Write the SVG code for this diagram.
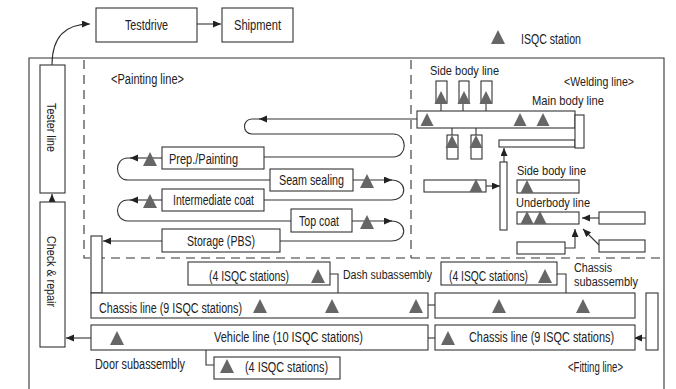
<svg xmlns="http://www.w3.org/2000/svg" width="676" height="389" viewBox="0 0 676 389">
<style>
rect.b{fill:#fff;stroke:#333;stroke-width:1.1}
.ln{fill:none;stroke:#333;stroke-width:1.1}
.ar{fill:none;stroke:#333;stroke-width:1.1;marker-end:url(#ah)}
.dash{fill:none;stroke:#333;stroke-width:1.1;stroke-dasharray:9 6}
text{font-family:"Liberation Sans Narrow","Liberation Sans",Arial,sans-serif;font-size:14px;fill:#222}
text.s{font-size:13px}
text.xs{font-size:12px}
.tri{fill:#666}
</style>
<defs>
<marker id="ah" markerUnits="userSpaceOnUse" markerWidth="9" markerHeight="8" refX="8" refY="3.5" orient="auto"><path d="M0,0 L8,3.5 L0,7 Z" fill="#222"/></marker>
<path id="t" class="tri" d="M-7,0 L0,-14 L7,0 Z"/>
<path id="ts" class="tri" d="M-6.5,0 L0,-13 L6.5,0 Z"/>
</defs>
<rect width="676" height="389" fill="#fff"/>
<!-- frame and zone separators -->
<path class="ln" d="M29,395 V58 H664 V395"/>
<path class="dash" d="M84,60 V258 H664"/>
<path class="dash" d="M411,60 V258"/>

<g id="connectors">
<path class="ar" d="M52,65 C52,36 66,24 90,24"/>
<path class="ar" d="M197,24 H221"/>
<path class="ar" d="M52,202 V194"/>
<!-- welding -->
<path class="ar" d="M441,103 V121"/>
<path class="ar" d="M463,103 V121"/>
<path class="ar" d="M486,103 V121"/>
<path class="ar" d="M452,135 V119"/>
<path class="ar" d="M476,135 V119"/>
<path class="ar" d="M575,119 H557"/>
<path class="ar" d="M504,162 V148"/>
<path class="ar" d="M486,186 H500"/>
<path class="ar" d="M599,218 H582"/>
<path class="ar" d="M599,245 L583,229"/>
<path class="ar" d="M565,248 H575 V229"/>
<!-- painting -->
<path class="ar" d="M417,119 H259"/>
<path class="ln" d="M260,119 H252 C242,119 242,134 252,134 H393 C408,134 408,157 393,157 H264"/>
<path class="ar" d="M162,158 H130"/>
<path class="ln" d="M131,158 H128 C114,158 114,180 128,180 H270"/>
<path class="ar" d="M353,180 H392"/>
<path class="ln" d="M391,180 C408,180 408,200 391,200 H264"/>
<path class="ar" d="M162,200 H130"/>
<path class="ln" d="M131,200 H128 C114,200 114,221 128,221 H291"/>
<path class="ar" d="M352,221 H392"/>
<path class="ln" d="M391,221 C408,221 408,241 391,241 H280"/>
<path class="ar" d="M162,241 H103"/>
<!-- fitting -->
<path class="ar" d="M330,274 H338 V302"/>
<path class="ar" d="M557,274 H566 V302"/>
<path class="ar" d="M428,305 H452"/>
<path class="ar" d="M646,338 H634"/>
<path class="ar" d="M435,338 H417"/>
<path class="ar" d="M91,338 H66"/>
<path class="ar" d="M214,365 H206 V342"/>
</g>

<g id="testdrive"><rect class="b" x="96" y="8" width="101" height="34"/><text x="125" y="30" textLength="43" lengthAdjust="spacingAndGlyphs">Testdrive</text></g>
<g id="shipment"><rect class="b" x="222" y="8" width="71" height="34"/><text x="234" y="30" textLength="47" lengthAdjust="spacingAndGlyphs">Shipment</text></g>
<g id="legend"><use href="#t" x="498" y="44"/><text x="521" y="44" textLength="60" lengthAdjust="spacingAndGlyphs">ISQC station</text></g>

<g id="tester-line"><rect class="b" x="40" y="65" width="25" height="128"/><text class="s" transform="rotate(90 47 127.5)" x="47" y="127.5" text-anchor="middle" textLength="49" lengthAdjust="spacingAndGlyphs">Tester line</text></g>
<g id="check-repair"><rect class="b" x="40" y="202" width="25" height="145"/><text class="s" transform="rotate(90 47 271.5)" x="47" y="271.5" text-anchor="middle" textLength="71" lengthAdjust="spacingAndGlyphs">Check &amp; repair</text></g>

<text x="111" y="84" textLength="73" lengthAdjust="spacingAndGlyphs">&lt;Painting line&gt;</text>

<!-- welding line -->
<g id="welding-labels">
<text class="s" x="430" y="75" textLength="69" lengthAdjust="spacingAndGlyphs">Side body line</text>
<text class="s" x="564" y="86" textLength="70" lengthAdjust="spacingAndGlyphs">&lt;Welding line&gt;</text>
<text class="s" x="532" y="105" textLength="72" lengthAdjust="spacingAndGlyphs">Main body line</text>
</g>
<g id="side-body-top">
<rect class="b" x="436" y="81" width="11" height="22"/><use href="#ts" x="441" y="104"/>
<rect class="b" x="459" y="81" width="10" height="22"/><use href="#ts" x="464" y="104"/>
<rect class="b" x="481" y="81" width="11" height="22"/><use href="#ts" x="486" y="104"/>
</g>
<g id="main-body-line">
<rect class="b" x="417" y="111" width="158" height="17"/>
<rect class="b" x="499" y="140" width="76" height="7"/>
<rect class="b" x="575" y="115" width="9" height="33"/>
<use href="#ts" x="427" y="126"/><use href="#ts" x="520" y="126"/><use href="#ts" x="543" y="126"/>
</g>
<g id="main-body-sub">
<rect class="b" x="447" y="135" width="11" height="24"/><use href="#ts" x="452" y="148"/>
<rect class="b" x="471" y="135" width="11" height="24"/><use href="#ts" x="476" y="148"/>
</g>
<g id="underbody-vertical"><rect class="b" x="500" y="162" width="7" height="68"/></g>
<g id="welding-left-box"><rect class="b" x="424" y="180" width="62" height="12"/><use href="#ts" x="476" y="192"/></g>
<g id="side-body-lower"><text class="s" x="517" y="175" textLength="69" lengthAdjust="spacingAndGlyphs">Side body line</text><rect class="b" x="517" y="180" width="62" height="13"/><use href="#ts" x="527" y="193"/></g>
<g id="underbody-line"><text class="s" x="516" y="207" textLength="74" lengthAdjust="spacingAndGlyphs">Underbody line</text><rect class="b" x="517" y="212" width="62" height="12"/><use href="#ts" x="527" y="224"/><use href="#ts" x="540" y="224"/></g>
<g id="ub-right1"><rect class="b" x="599" y="212" width="46" height="12"/></g>
<g id="ub-right2"><rect class="b" x="599" y="240" width="46" height="12"/></g>
<g id="ub-lower"><rect class="b" x="517" y="242" width="48" height="12"/></g>

<!-- painting line -->
<g id="prep-painting"><rect class="b" x="162" y="147" width="102" height="22"/><text x="169" y="164" textLength="69" lengthAdjust="spacingAndGlyphs">Prep./Painting</text><use href="#t" x="150" y="166"/></g>
<g id="seam-sealing"><rect class="b" x="270" y="169" width="83" height="22"/><text x="279" y="185" textLength="65" lengthAdjust="spacingAndGlyphs">Seam sealing</text><use href="#t" x="367" y="188"/></g>
<g id="intermediate-coat"><rect class="b" x="162" y="189" width="102" height="22"/><text x="173" y="205" textLength="81" lengthAdjust="spacingAndGlyphs">Intermediate coat</text><use href="#t" x="150" y="208"/></g>
<g id="top-coat"><rect class="b" x="291" y="209" width="61" height="23"/><text x="299" y="226" textLength="40" lengthAdjust="spacingAndGlyphs">Top coat</text><use href="#t" x="367" y="229"/></g>
<g id="storage"><rect class="b" x="162" y="229" width="118" height="23"/><text x="187" y="246" textLength="68" lengthAdjust="spacingAndGlyphs">Storage (PBS)</text></g>
<g id="paint-exit"><rect class="b" x="91" y="236" width="11" height="57"/></g>

<!-- fitting line -->
<g id="dash-sub"><rect class="b" x="188" y="262" width="142" height="23"/><text x="209" y="281" textLength="80" lengthAdjust="spacingAndGlyphs">(4 ISQC stations)</text><use href="#t" x="318" y="283"/><text class="xs" x="343" y="279" textLength="89" lengthAdjust="spacingAndGlyphs">Dash subassembly</text></g>
<g id="chassis-sub"><rect class="b" x="441" y="262" width="116" height="23"/><text x="449" y="281" textLength="79" lengthAdjust="spacingAndGlyphs">(4 ISQC stations)</text><use href="#t" x="545" y="283"/><text class="xs" x="574" y="272" textLength="38" lengthAdjust="spacingAndGlyphs">Chassis</text><text class="xs" x="574" y="286" textLength="64" lengthAdjust="spacingAndGlyphs">subassembly</text></g>
<g id="chassis-line-left"><rect class="b" x="91" y="293" width="337" height="25"/><text x="99" y="313" textLength="143" lengthAdjust="spacingAndGlyphs">Chassis line (9 ISQC stations)</text><use href="#t" x="260" y="313"/><use href="#t" x="332" y="313"/><use href="#t" x="416" y="313"/></g>
<g id="chassis-line-right-top"><rect class="b" x="435" y="293" width="200" height="25"/><use href="#t" x="499" y="313"/><use href="#t" x="583" y="313"/></g>
<g id="fitting-turn"><rect class="b" x="646" y="293" width="12" height="57"/></g>
<g id="chassis-line-right"><rect class="b" x="435" y="325" width="200" height="25"/><text x="469" y="342" textLength="145" lengthAdjust="spacingAndGlyphs">Chassis line (9 ISQC stations)</text><use href="#t" x="448" y="345"/></g>
<g id="vehicle-line"><rect class="b" x="91" y="325" width="337" height="25"/><text x="214" y="342" textLength="149" lengthAdjust="spacingAndGlyphs">Vehicle line (10 ISQC stations)</text><use href="#t" x="117" y="345"/></g>
<g id="door-sub"><text x="95" y="369" textLength="90" lengthAdjust="spacingAndGlyphs">Door subassembly</text><rect class="b" x="214" y="357" width="126" height="22"/><use href="#t" x="227" y="373"/><text x="245" y="372" textLength="83" lengthAdjust="spacingAndGlyphs">(4 ISQC stations)</text></g>
<text x="568" y="372" textLength="55" lengthAdjust="spacingAndGlyphs">&lt;Fitting line&gt;</text>
</svg>
